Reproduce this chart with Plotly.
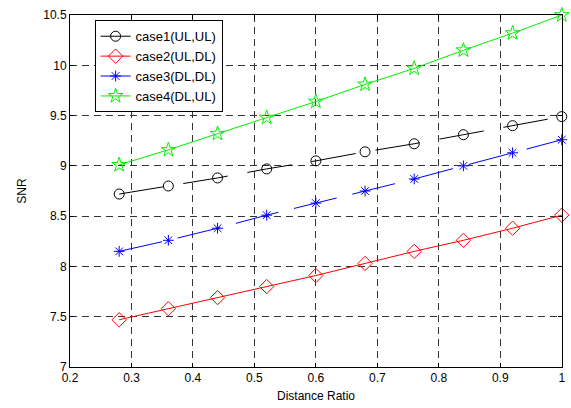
import plotly.graph_objects as go

distance_ratio = [0.28, 0.36, 0.44, 0.52, 0.60, 0.68, 0.76, 0.84, 0.92, 1.00]
case1 = [8.72, 8.80, 8.88, 8.97, 9.05, 9.14, 9.22, 9.31, 9.40, 9.49]
case2 = [7.47, 7.58, 7.69, 7.80, 7.91, 8.03, 8.15, 8.26, 8.38, 8.51]
case3 = [8.15, 8.26, 8.38, 8.51, 8.63, 8.75, 8.87, 9.00, 9.13, 9.26]
case4 = [9.01, 9.16, 9.32, 9.48, 9.64, 9.81, 9.97, 10.15, 10.32, 10.50]
names = ["case1(UL,UL)", "case2(UL,DL)", "case3(DL,DL)", "case4(DL,UL)"]
x_ticks = [0.2, 0.3, 0.4, 0.5, 0.6, 0.7, 0.8, 0.9, 1]
x_tick_labels = ["0.2", "0.3", "0.4", "0.5", "0.6", "0.7", "0.8", "0.9", "1"]
y_ticks = [7, 7.5, 8, 8.5, 9, 9.5, 10, 10.5]
y_tick_labels = ["7", "7.5", "8", "8.5", "9", "9.5", "10", "10.5"]

styles = [
    dict(color="black", symbol="circle-open", dash="45px,20px", size=10),
    dict(color="red", symbol="diamond-open", dash="solid", size=11),
    dict(color="blue", symbol="asterisk-open", dash="44px,16px", size=9),
    dict(color="#00ee00", symbol="star-open", dash="solid", size=11),
]

fig = go.Figure()
for name, ys, st in zip(names, [case1, case2, case3, case4], styles):
    fig.add_trace(go.Scatter(
        x=distance_ratio, y=ys, name=name, mode="lines+markers",
        cliponaxis=False,
        line=dict(color=st["color"], width=1, dash=st["dash"]),
        marker=dict(symbol=st["symbol"], size=st["size"], color=st["color"],
                    line=dict(color=st["color"], width=1)),
    ))

axis_common = dict(
    showline=True, linecolor="black", linewidth=1, mirror="allticks",
    ticks="inside", ticklen=4, tickcolor="black",
    showgrid=True, gridcolor="#333333", gridwidth=1, griddash="7px,5px",
    zeroline=False, ticklabeloverflow="allow",
    tickfont=dict(family="Liberation Sans, Arial", size=12, color="black"),
)

fig.update_layout(
    width=571, height=408,
    margin=dict(l=70, r=6, t=15, b=41),
    paper_bgcolor="white", plot_bgcolor="white",
    font=dict(family="Liberation Sans, Arial", size=12, color="black"),
    xaxis=dict(range=[0.2, 1.0004], tickvals=x_ticks, ticktext=x_tick_labels,
               title=dict(text="Distance Ratio", standoff=7, font=dict(size=12)), **axis_common),
    yaxis=dict(range=[7, 10.5005], tickvals=y_ticks, ticktext=y_tick_labels,
               title=dict(text="SNR", standoff=14, font=dict(size=12)), **axis_common),
    legend=dict(x=0.05, y=0.985, xanchor="left", yanchor="top",
                bgcolor="white", bordercolor="black", borderwidth=1,
                font=dict(size=13), tracegroupgap=0, itemwidth=30),
    showlegend=True,
)

fig.write_html("out.html", config={"displayModeBar": False},
               post_script="document.body.style.margin='0px';document.body.style.overflow='hidden';")
